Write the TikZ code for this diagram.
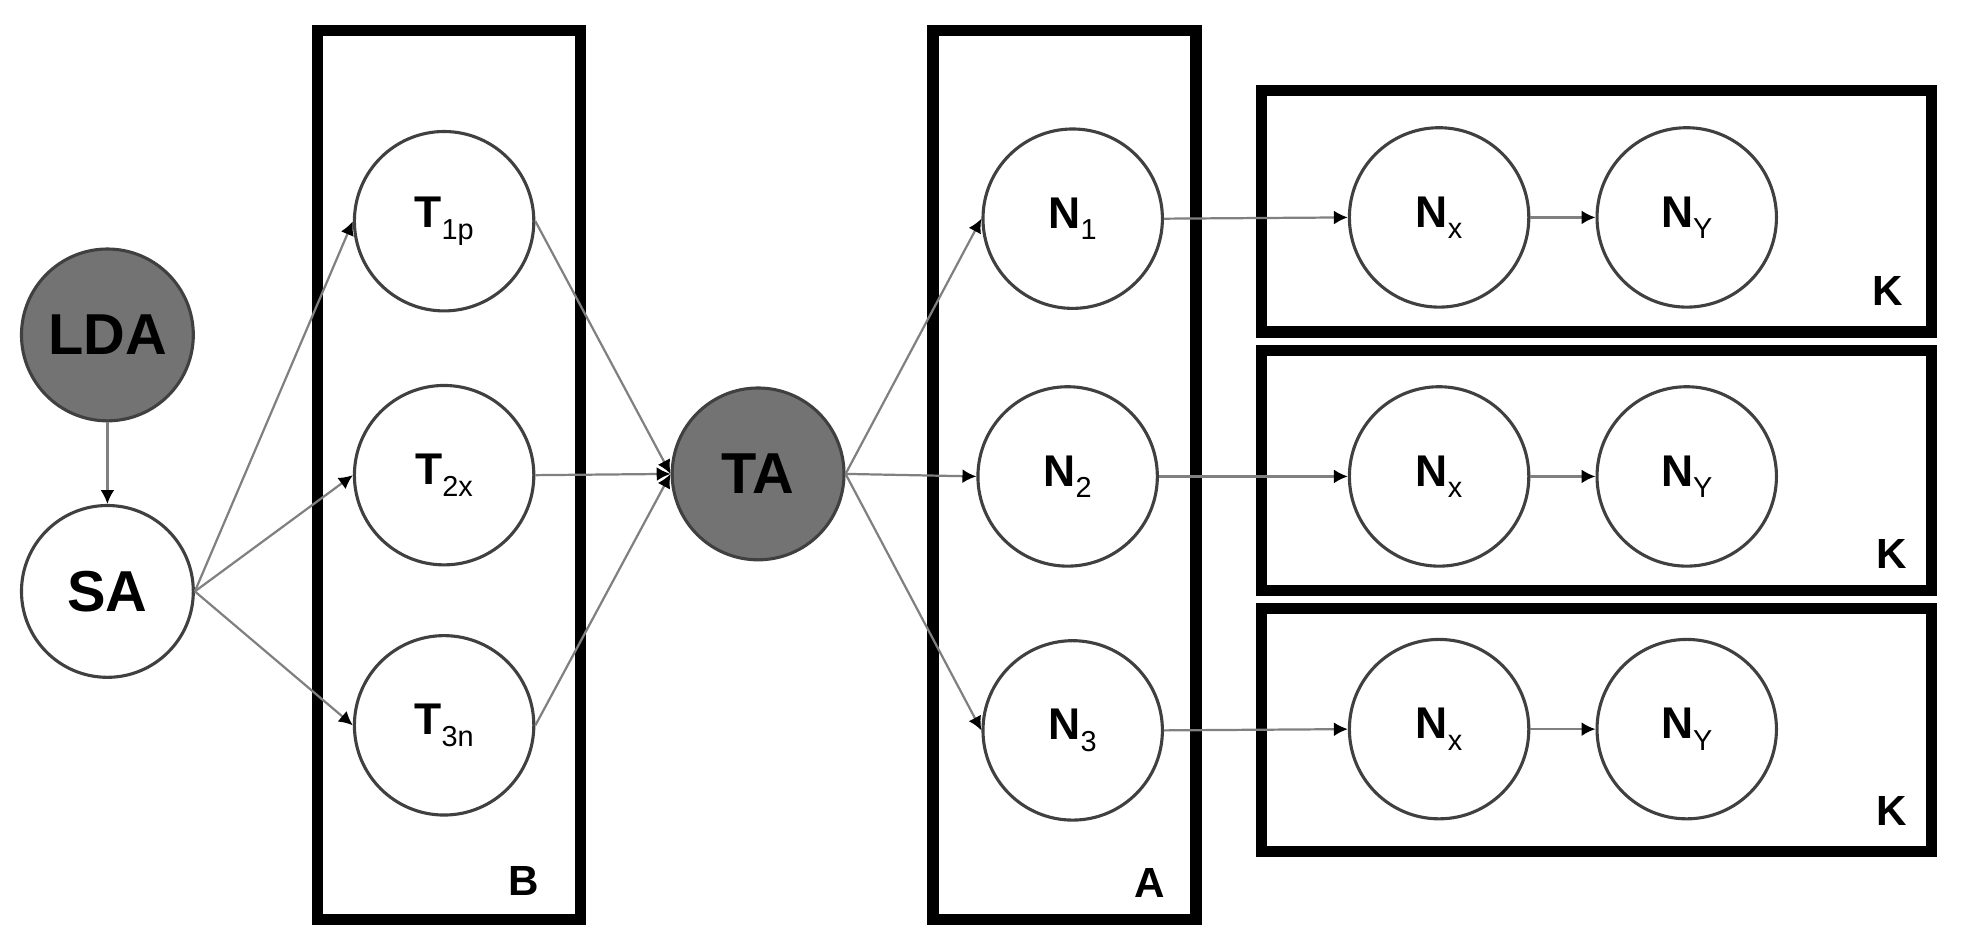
\documentclass[tikz,border=0pt]{standalone}
\usepackage{fontspec}
\setmainfont{Liberation Sans}
\usetikzlibrary{positioning, arrows.meta}

\newcommand{\lowidx}[1]{\raisebox{-0.09cm}{\fontsize{6.5}{7}\mdseries\selectfont #1}}

\begin{document}
\begin{tikzpicture}[scale=1,
  big/.style={circle, draw=black!75, line width=0.7pt, minimum size=1.36cm, inner sep=0pt, font=\fontsize{13}{15}\bfseries\selectfont},
  dark/.style={big, fill=black!55},
  plain/.style={circle, draw=black!75, line width=0.7pt, minimum size=1.42cm, inner sep=0pt, font=\fontsize{10}{12}\bfseries\selectfont},
  plate/.style={draw=black, line width=2.5pt},
  platename/.style={font=\fontsize{9.5}{11}\bfseries\selectfont},
  edge/.style={draw=black!50, line width=0.5pt, -{Latex[length=1.1mm,width=1.1mm,color=black]}}]
\color{black}
\useasboundingbox (0,0) rectangle (15.6,7.527);

% plates
\draw [plate] (2.514,0.25) rectangle (4.596,7.282);
\draw [plate] (7.384,0.25) rectangle (9.466,7.282);
\draw [plate] (9.984,4.899) rectangle (15.286,6.813);
\draw [plate] (9.984,2.856) rectangle (15.286,4.756);
\draw [plate] (9.984,0.785) rectangle (15.286,2.713);

\node[platename] (lb) at (4.145,0.556) {B};
\node[platename] (la) at (9.10,0.536) {A};
\node[platename] (lk1) at (14.94,5.226) {K};
\node[platename] (lk2) at (14.97,3.146) {K};
\node[platename] (lk3) at (14.97,1.106) {K};

% nodes
\node[dark] (lda) at (0.85,4.876) {LDA};
\node[big] (sa) at (0.85,2.846) {SA};

\node[plain] (t1) at (3.515,5.776) {T\lowidx{1p}};
\node[plain] (t2) at (3.515,3.766) {T\lowidx{2x}};
\node[plain] (t3) at (3.515,1.786) {T\lowidx{3n}};

\node[dark] (ta) at (6.00,3.776) {TA};

\node[plain] (n1) at (8.49,5.796) {N\lowidx{1}};
\node[plain] (n2) at (8.45,3.756) {N\lowidx{2}};
\node[plain] (n3) at (8.49,1.746) {N\lowidx{3}};

\node[plain] (x1) at (11.39,5.806) {N\lowidx{x}};
\node[plain] (y1) at (13.35,5.806) {N\lowidx{Y}};
\node[plain] (x2) at (11.39,3.756) {N\lowidx{x}};
\node[plain] (y2) at (13.35,3.756) {N\lowidx{Y}};
\node[plain] (x3) at (11.39,1.756) {N\lowidx{x}};
\node[plain] (y3) at (13.35,1.756) {N\lowidx{Y}};

% edges
\draw[edge] (lda) -- (sa);

\draw[edge] (sa.east) -- (t1.west);
\draw[edge] (sa.east) -- (t2.west);
\draw[edge] (sa.east) -- (t3.west);

\draw[edge] (t1.east) -- (ta.west);
\draw[edge] (t2.east) -- (ta.west);
\draw[edge] (t3.east) -- (ta.west);

\draw[edge] (ta.east) -- (n1.west);
\draw[edge] (ta.east) -- (n2.west);
\draw[edge] (ta.east) -- (n3.west);

\draw[edge] (n1.east) -- (x1.west);
\draw[edge] (x1.east) -- (y1.west);
\draw[edge] (n2.east) -- (x2.west);
\draw[edge] (x2.east) -- (y2.west);
\draw[edge] (n3.east) -- (x3.west);
\draw[edge] (x3.east) -- (y3.west);
\end{tikzpicture}
\end{document}
